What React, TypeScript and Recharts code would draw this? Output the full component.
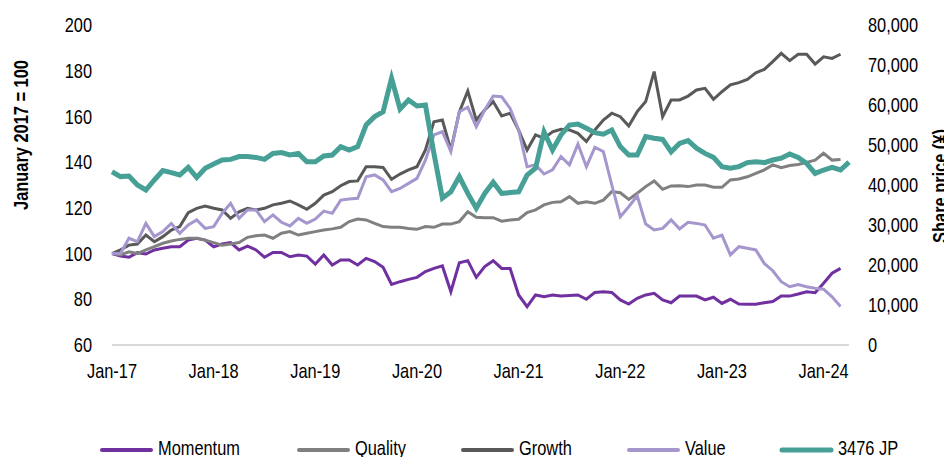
import React from 'react';
import { LineChart, Line, XAxis, YAxis, Legend, Label } from 'recharts';

// Month index 0 = Jan-17 ... 86 = Mar-24 (share price has one more: 87 = Apr-24)
const tickLabels = ['Jan-17', 'Jan-18', 'Jan-19', 'Jan-20', 'Jan-21', 'Jan-22', 'Jan-23', 'Jan-24'];
const xTicks = [0, 12, 24, 36, 48, 60, 72, 84];
const leftTicks = [60, 80, 100, 120, 140, 160, 180, 200];
const rightTicks = [0, 10000, 20000, 30000, 40000, 50000, 60000, 70000, 80000];

const momentum = [
  100, 98.9, 98.4, 100.4, 99.8, 101.6, 102.3, 103, 103, 105.9, 106.7, 105.9, 103, 104.2, 104.8, 101.6, 103.3,
  101.6, 98.4, 100.5, 100.5, 98.6, 99.4, 98.9, 95.4, 99.4, 95, 97.2, 97.2, 95, 97.9, 96.5, 94, 86.5,
  87.7, 88.7, 89.6, 92.1, 93.5, 94.6, 83.3, 96, 96.9, 89.6, 94.3, 96.9, 93.5, 93.5, 81.9, 76.8, 81.9,
  81.1, 81.9, 81.4, 81.7, 81.9, 80, 83, 83.3, 83, 79.7, 77.9, 80.4, 81.9, 82.6, 79.7, 78.5, 81.4,
  81.4, 81.4, 79.7, 80.9, 78.2, 80, 77.9, 77.8, 77.8, 78.5, 79, 81.4, 81.4, 82.3, 83.3, 82.9, 87, 91.4, 93.5,
];

const quality = [
  100, 99.4, 100.8, 100, 101.6, 103, 104.5, 105.5, 106.2, 106.7, 106.7, 105.9, 104.8, 103.7, 104.2, 104.8, 107.1,
  107.8, 108.1, 106.7, 108.9, 109.6, 108.1, 108.9, 109.6, 110.3, 110.8, 111.5, 114, 115.1, 114.7, 113.2, 111.8, 111.5,
  111.5, 111, 110.6, 111.8, 111.5, 112.9, 112.9, 114, 118.3, 115.9, 115.7, 115.7, 114.2, 114.7, 115, 117.9, 119.1,
  121.3, 122.4, 122.7, 124.9, 122, 122.7, 122, 123.4, 127.1, 126.6, 123.7, 126.4, 129.3, 131.8, 128.1, 129.6, 129.7,
  129.3, 130, 130, 129, 129, 132.2, 132.6, 133.6, 135.1, 136.6, 138.8, 137.6, 138.5, 139, 139.9, 140.9, 143.9, 140.9, 141.2,
];

const growth = [
  100, 101.6, 103.7, 104.2, 108.1, 105.2, 107.4, 110.3, 111.8, 117.9, 119.8, 120.8, 119.8, 119.1, 115.4, 118.3, 119.8,
  119.1, 119.8, 121.3, 122, 123, 121.3, 119.4, 122, 125.6, 127.1, 129.7, 131.5, 131.8, 138, 138, 137.7, 132.5,
  134.8, 136.6, 138, 145.3, 157.7, 158.4, 145.3, 162, 171.1, 158.4, 162.8, 166.5, 160.2, 161.4, 154, 145.3, 151.9,
  150.4, 153.3, 154.4, 154.1, 152.6, 149, 154.1, 158.4, 161.4, 159.9, 155.8, 162.1, 166.5, 179.6, 159.9, 167.2, 167.2,
  168.9, 171.6, 172.3, 167.5, 170.8, 173.8, 174.8, 176.2, 179.1, 180.6, 184, 187.6, 184.4, 187.2, 187.2, 182.9, 186.1, 185.4, 187.2,
];

const value = [
  100, 100, 106.7, 105.2, 113.2, 107.4, 109.6, 113.2, 108.9, 112.5, 114.7, 111, 111.8, 117.6, 122, 115.4, 119.1,
  119.1, 114, 116.9, 113.7, 112.1, 115.4, 113.2, 115.1, 118.6, 117.6, 123.4, 123.9, 124.2, 133.6, 134.4, 132.2, 127.1,
  128.5, 130.7, 132.9, 140.9, 151.9, 153.3, 144.6, 162.1, 164, 155.5, 162.8, 168.9, 168.6, 163.5, 154.1, 138, 138.8,
  134.8, 136.6, 142.4, 138.8, 147.9, 138, 146.5, 144.6, 130, 116.1, 120.5, 125.3, 112.9, 110.3, 111, 114.7, 110.8,
  113.7, 113.2, 112.5, 106.7, 108.1, 99.4, 103, 102.3, 101.6, 95.7, 92.5, 87.7, 85.5, 86.5, 85.5, 84.8, 84.4, 81.1, 76.8,
];

const sharePrice = [
  43300, 42100, 42250, 40000, 38750, 41250, 43600, 43100, 42500, 44400, 41900, 44200, 45250, 46250, 46400, 47100, 47100,
  46900, 46400, 47900, 48100, 47500, 47900, 45800, 45800, 47250, 47500, 49600, 48750, 49600, 55000, 57100, 58300, 66700,
  59000, 61250, 59750, 60000, 47900, 36700, 38300, 42100, 37900, 34200, 37900, 40700, 37900, 38100, 38300, 42500, 44200,
  53300, 48750, 52500, 55000, 55250, 54200, 53100, 52700, 53750, 49600, 47500, 47500, 52100, 51700, 51400, 48300, 50400,
  51100, 49200, 47900, 46900, 44600, 44200, 44600, 45600, 45800, 45600, 46250, 46700, 47750, 46900, 45400, 42900, 43750, 44400, 43750, 45700,
];

const series = [
  { key: 'momentum', name: 'Momentum', color: '#7030A0', width: 3, axis: 'left', values: momentum },
  { key: 'quality', name: 'Quality', color: '#808080', width: 3, axis: 'left', values: quality },
  { key: 'growth', name: 'Growth', color: '#595959', width: 3, axis: 'left', values: growth },
  { key: 'value', name: 'Value', color: '#A596CD', width: 3, axis: 'left', values: value },
  { key: 'price', name: '3476 JP', color: '#47A096', width: 5, axis: 'right', values: sharePrice },
];

const data = sharePrice.map((_, i) => {
  const row: Record<string, number | null> = { m: i };
  series.forEach((s) => {
    row[s.key] = i < s.values.length ? s.values[i] : null;
  });
  return row;
});

// Arial-Narrow look: Liberation Sans compressed horizontally
const FONT = "'Liberation Sans', Arial, sans-serif";
const NARROW = 0.82;
const FS = 20;
const W = 944;
const H = 449;

const narrowAt = (x: number, y: number) => `translate(${x} ${y}) scale(${NARROW} 1) translate(${-x} ${-y})`;

const XTick = (props: any) => {
  const { x, y, payload } = props;
  return (
    <text x={x} y={y} dy="0.71em" textAnchor="middle" fontFamily={FONT} fontSize={FS} fill="#000" transform={narrowAt(x, y)}>
      {tickLabels[Math.round(payload.value / 12)]}
    </text>
  );
};

const LeftTick = (props: any) => {
  const { x, y, payload } = props;
  return (
    <text x={x} y={y} dy="0.355em" textAnchor="end" fontFamily={FONT} fontSize={FS} fill="#000" transform={narrowAt(x, y)}>
      {payload.value}
    </text>
  );
};

const RightTick = (props: any) => {
  const { x, y, payload } = props;
  return (
    <text x={x} y={y} dy="0.355em" textAnchor="start" fontFamily={FONT} fontSize={FS} fill="#000" transform={narrowAt(x, y)}>
      {Number(payload.value).toLocaleString('en-US')}
    </text>
  );
};

const LeftTitle = () => (
  <text
    transform={`translate(19.5 127) rotate(-90) scale(${NARROW} 1)`}
    textAnchor="middle"
    fontFamily={FONT}
    fontSize={FS}
    fontWeight="bold"
    fill="#000"
  >
    January 2017 = 100
  </text>
);

const RightTitle = () => (
  <text
    transform={`translate(939 178) rotate(-90) scale(${NARROW} 1)`}
    textAnchor="middle"
    fontFamily={FONT}
    fontSize={FS}
    fontWeight="bold"
    fill="#000"
  >
    Share price (¥)
  </text>
);

// legend item offsets (layout only)
const legendOffsets = [0, 197, 361, 527, 680];

const LegendContent = () => (
  <svg width={860} height={24} style={{ display: 'block', overflow: 'visible' }}>
    {series.map((s, i) => {
      const x0 = legendOffsets[i];
      return (
        <g key={s.key}>
          <line x1={x0 + 2} y1={12} x2={x0 + 51} y2={12} stroke={s.color} strokeWidth={s.axis === 'right' ? 5 : 4} strokeLinecap="round" />
          <text transform={`translate(${x0 + 58} 17) scale(${NARROW} 1)`} fontFamily={FONT} fontSize={FS} fill="#000">
            {s.name}
          </text>
        </g>
      );
    })}
  </svg>
);

export default function App() {
  return (
    <LineChart width={W} height={H} data={data} margin={{ top: 17, right: 33, bottom: 72, left: 44 }}>
      <XAxis
        dataKey="m"
        type="number"
        domain={[0, 87]}
        ticks={xTicks}
        tick={<XTick />}
        tickLine={false}
        tickSize={0}
        tickMargin={19}
        height={40}
        axisLine={{ stroke: '#D9D9D9', strokeWidth: 2 }}
        interval={0}
      />
      <YAxis
        yAxisId="left"
        domain={[60, 200]}
        ticks={leftTicks}
        tick={<LeftTick />}
        tickLine={false}
        tickSize={0}
        tickMargin={20}
        axisLine={false}
        width={60}
        interval={0}
      >
        <Label content={LeftTitle} />
      </YAxis>
      <YAxis
        yAxisId="right"
        orientation="right"
        domain={[0, 80000]}
        ticks={rightTicks}
        tick={<RightTick />}
        tickLine={false}
        tickSize={0}
        tickMargin={19}
        axisLine={false}
        width={70}
        interval={0}
      >
        <Label content={RightTitle} />
      </YAxis>
      <Legend
        layout="horizontal"
        verticalAlign="middle"
        content={LegendContent}
        wrapperStyle={{ top: 430, left: 92, width: 'auto', height: 'auto' }}
      />
      {series.map((s) => (
        <Line
          key={s.key}
          yAxisId={s.axis}
          type="linear"
          dataKey={s.key}
          name={s.name}
          stroke={s.color}
          strokeWidth={s.width}
          dot={false}
          activeDot={false}
          isAnimationActive={false}
          connectNulls={false}
        />
      ))}
    </LineChart>
  );
}
